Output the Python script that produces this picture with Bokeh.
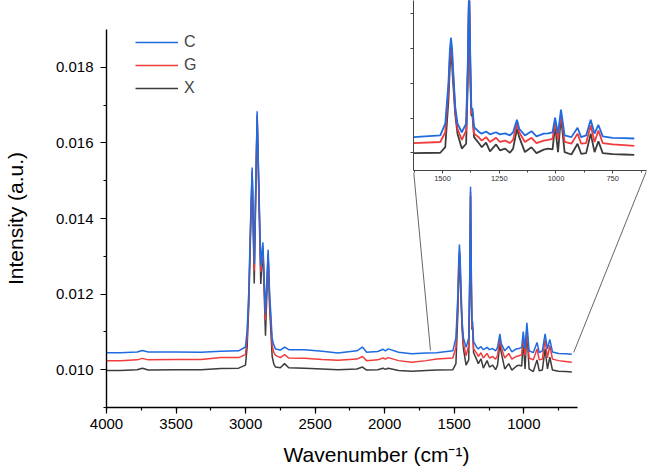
from bokeh.plotting import figure
from bokeh.models import (ColumnDataSource, Range1d, SingleIntervalTicker,
                          NumeralTickFormatter, CustomJSTickFormatter,
                          Legend, LegendItem)
from bokeh.embed import file_html
from bokeh.resources import INLINE

# ---------------- data ----------------
wavenumber = [4000, 3900, 3780, 3742, 3700, 3500, 3320, 3177, 3050, 3001,
              2989, 2977, 2965, 2953, 2938, 2917, 2891, 2876, 2857, 2838,
              2828, 2809, 2797, 2785,
              2750, 2720, 2690, 2576, 2450, 2336, 2200, 2160, 2130, 2050,
              2012, 1995, 1975, 1900, 1807, 1700,
              1627, 1510, 1488, 1474, 1468, 1463, 1458, 1454, 1444, 1434, 1415, 1396,
              1389, 1383, 1377, 1373, 1368, 1361, 1338, 1327, 1308, 1291,
              1264, 1247, 1224, 1203, 1189, 1172, 1162, 1137, 1108, 1086,
              1054, 1035, 1015, 1004, 991, 978, 962, 932, 905, 889,
              867, 847, 830, 813, 794, 750, 700, 655]

intensity_C = [.01045, .01045, .01047, .01051, .01047, .01047, .01046, .01049, .01050, .01060,
               .01104, .01209, .01385, .01535, .01280, .01684, .01275, .01337, .01148, .01317,
               .01209, .01082, .01065, .01055,
               .01052, .01060, .01053, .01053, .01049, .01044, .01050, .01060, .01046, .01048,
               .01054, .01050, .01055, .01046, .01042, .01044,
               .01045, .01050, .01084, .01199, .01290, .01331, .01300, .01247, .01131, .01084, .01059, .01084,
               .01247, .01484, .01247, .01127, .01127, .01074, .01059, .01055, .01061, .01053,
               .01059, .01053, .01056, .01050, .01059, .01095, .01069, .01050, .01062, .01047,
               .01055, .01056, .01059, .01101, .01055, .01124, .01050, .01045, .01072, .01045,
               .01050, .01095, .01055, .01080, .01047, .01043, .01042, .01041]

intensity_G = [.01024, .01024, .01026, .01030, .01026, .01027, .01027, .01032, .01032, .01040,
               .01085, .01190, .01370, .01525, .01262, .01675, .01258, .01328, .01130, .01308,
               .01190, .01062, .01046, .01038,
               .01032, .01040, .01031, .01030, .01027, .01025, .01028, .01035, .01024, .01026,
               .01031, .01028, .01032, .01024, .01020, .01024,
               .01028, .01031, .01059, .01180, .01272, .01312, .01282, .01232, .01120, .01069, .01037, .01064,
               .01228, .01470, .01228, .01112, .01114, .01055, .01043, .01035, .01045, .01031,
               .01043, .01031, .01035, .01028, .01037, .01085, .01059, .01031, .01043, .01028,
               .01035, .01037, .01040, .01088, .01037, .01112, .01031, .01026, .01055, .01026,
               .01028, .01079, .01031, .01064, .01028, .01024, .01022, .01020]

intensity_X = [.00998, .00998, .01000, .01004, .00999, .01000, .01000, .01003, .01004, .01012,
               .01060, .01170, .01350, .01520, .01228, .01670, .01227, .01320, .01090, .01300,
               .01170, .01035, .01015, .01007,
               .01005, .01016, .01005, .01004, .01002, .01000, .01002, .01007, .00999, .01000,
               .01004, .01001, .01004, .00998, .00996, .00998,
               .00999, .01000, .01016, .01151, .01245, .01285, .01255, .01208, .01110, .01055, .01012, .01026,
               .01199, .01460, .01199, .01107, .01107, .01045, .01026, .01016, .01029, .01004,
               .01024, .01007, .01012, .01000, .01012, .01069, .01045, .01002, .01016, .00999,
               .01009, .01012, .01010, .01079, .01002, .01103, .01002, .00995, .01026, .00997,
               .00999, .01055, .01002, .01033, .00999, .00996, .00995, .00994]

series_names = ["C", "G", "X"]
series_colors = {"C": "#1f6be0", "G": "#f03c3c", "X": "#3c3c3c"}

# zoom-region connector ends (main-plot data coords): lower ends, inset corners
zoom_low_x = [1671, 641]
zoom_low_y = [0.01051, 0.01046]
inset_corner_x = [1791, 118]
inset_corner_y = [0.01521, 0.01526]

src = ColumnDataSource(dict(x=wavenumber, C=intensity_C, G=intensity_G, X=intensity_X))

FONT = "Liberation Sans"

# ---------------- main figure ----------------
p = figure(width=647, height=472, output_backend="svg", toolbar_location=None,
           x_range=Range1d(4000, 118), y_range=Range1d(0.009, 0.019),
           min_border_left=106, min_border_right=1, min_border_top=29,
           min_border_bottom=65)
p.styles = {"position": "absolute", "left": "0px", "top": "0px"}
p.outline_line_color = None
p.xgrid.visible = False
p.ygrid.visible = False
p.background_fill_color = "white"
p.border_fill_color = "white"

renderers = {}
for name in ["X", "G", "C"]:
    renderers[name] = p.line("x", name, source=src, color=series_colors[name],
                             line_width=1.5)

for i in range(2):
    p.line([zoom_low_x[i], inset_corner_x[i]], [zoom_low_y[i], inset_corner_y[i]],
           color="#555555", line_width=0.9)

p.xaxis.ticker = SingleIntervalTicker(interval=500, num_minor_ticks=2)
p.xaxis.bounds = (614, 4000)
p.yaxis.ticker = SingleIntervalTicker(interval=0.002, num_minor_ticks=2)
p.yaxis.formatter = NumeralTickFormatter(format="0.000")
for ax in (p.xaxis[0], p.yaxis[0]):
    ax.axis_line_color = "black"
    ax.axis_line_width = 1.4
    ax.major_tick_line_color = "black"
    ax.minor_tick_line_color = "black"
    ax.major_tick_line_width = 1.2
    ax.minor_tick_line_width = 1.2
    ax.major_tick_in = 0
    ax.major_tick_out = 6
    ax.minor_tick_in = 0
    ax.minor_tick_out = 3
    ax.major_label_text_font = FONT
    ax.major_label_text_font_size = "15px"
    ax.major_label_text_color = "black"
    ax.axis_label_text_font = FONT
    ax.axis_label_text_font_size = "21px"
    ax.axis_label_text_font_style = "normal"
    ax.axis_label_text_color = "black"
p.xaxis.major_label_standoff = 5
p.yaxis.major_label_standoff = 7
p.xaxis.axis_label = "Wavenumber (cm\u207b\u00b9)"
p.yaxis.axis_label = "Intensity (a.u.)"
p.xaxis.axis_label_standoff = 11
p.yaxis.axis_label_standoff = 26

legend = Legend(items=[LegendItem(label=n, renderers=[renderers[n]]) for n in series_names],
                location=(29, 309), padding=0, margin=0, spacing=3,
                glyph_width=43, glyph_height=20, label_height=20,
                label_standoff=6, label_text_font=FONT,
                label_text_font_size="16px", border_line_color=None,
                background_fill_alpha=0)
p.add_layout(legend)

# ---------------- inset ----------------
p2 = figure(width=244, height=192, output_backend="svg", toolbar_location=None,
            x_range=Range1d(1628, 601), y_range=Range1d(0.00949, 0.01438),
            min_border_left=10, min_border_right=1, min_border_top=0,
            min_border_bottom=22)
p2.styles = {"position": "absolute", "left": "403px", "top": "0px"}
p2.outline_line_color = None
p2.xgrid.visible = False
p2.ygrid.visible = False
p2.background_fill_alpha = 0
p2.border_fill_alpha = 0
for name in ["X", "G", "C"]:
    p2.line("x", name, source=src, color=series_colors[name], line_width=1.8)

p2.xaxis.ticker = SingleIntervalTicker(interval=250, num_minor_ticks=2)
p2.yaxis.ticker = SingleIntervalTicker(interval=0.001, num_minor_ticks=0)
p2.yaxis.formatter = CustomJSTickFormatter(code="return ''")
for ax in (p2.xaxis[0], p2.yaxis[0]):
    ax.axis_line_color = "#444444"
    ax.axis_line_width = 1
    ax.major_tick_line_color = "#444444"
    ax.minor_tick_line_color = "#444444"
    ax.major_tick_in = 0
    ax.major_tick_out = 3
    ax.minor_tick_in = 0
    ax.minor_tick_out = 2
    ax.major_label_text_font = FONT
    ax.major_label_text_font_size = "7.5px"
    ax.major_label_text_color = "#333333"
    ax.major_label_standoff = 2

open("out.html", "w").write(file_html((p, p2), INLINE))
